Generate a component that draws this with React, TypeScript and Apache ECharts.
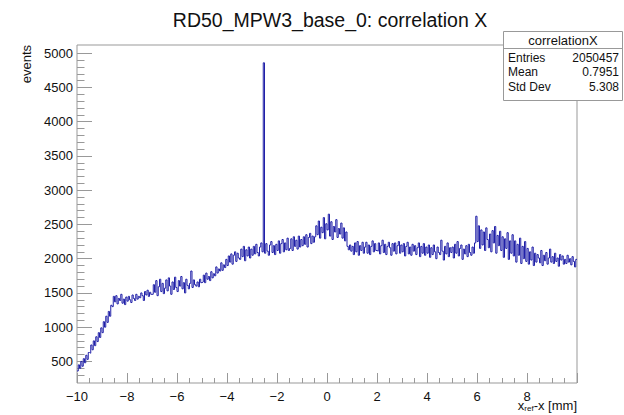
import React, { useEffect, useRef } from "react";
import * as echarts from "echarts";

// Histogram: 400 bins from -10 to 10 mm (bin width 0.05 mm), one row per 0.5 mm
const binLow = -10;
const binHigh = 10;
const counts: number[] = [
  360, 450, 400, 500, 430, 540, 480, 590, 530, 630,
  620, 740, 670, 800, 730, 860, 790, 920, 850, 990,
  920, 1080, 1000, 1160, 1070, 1230, 1160, 1320, 1300, 1450,
  1370, 1460, 1340, 1420, 1390, 1480, 1350, 1410, 1330, 1440,
  1380, 1450, 1400, 1360, 1470, 1420, 1390, 1480, 1410, 1450,
  1430, 1500, 1460, 1390, 1520, 1470, 1540, 1450, 1510, 1480,
  1480, 1620, 1510, 1680, 1460, 1590, 1700, 1520, 1640, 1490,
  1570, 1690, 1530, 1720, 1600, 1480, 1660, 1550, 1730, 1580,
  1520, 1680, 1600, 1740, 1560, 1650, 1500, 1700, 1610, 1560,
  1640, 1820, 1580, 1690, 1620, 1600, 1660, 1590, 1700, 1650,
  1660, 1760, 1650, 1790, 1700, 1740, 1680, 1810, 1720, 1780,
  1750, 1880, 1790, 1850, 1820, 1940, 1830, 1910, 1870, 1990,
  1900, 2040, 1950, 2070, 1920, 2050, 2100, 1960, 2080, 2010,
  1990, 2140, 2030, 2180, 1970, 2130, 2040, 2170, 2010, 2140,
  2050, 2180, 2070, 2210, 2090, 2040, 2170, 2230, 2100, 4860,
  2080, 2220, 2110, 2050, 2200, 2250, 2090, 2190, 2060, 2210,
  2120, 2260, 2080, 2220, 2280, 2100, 2230, 2130, 2300, 2120,
  2150, 2290, 2120, 2320, 2180, 2270, 2140, 2330, 2170, 2280,
  2190, 2320, 2210, 2350, 2170, 2310, 2370, 2220, 2330, 2240,
  2320, 2480, 2350, 2550, 2300, 2460, 2380, 2600, 2290, 2510,
  2420, 2650, 2330, 2540, 2280, 2470, 2390, 2570, 2310, 2440,
  2360, 2520, 2300, 2450, 2260, 2390, 2180, 2130, 2200, 2110,
  2180, 2060, 2230, 2100, 2250, 2050, 2190, 2120, 2240, 2080,
  2170, 2240, 2080, 2200, 2060, 2180, 2260, 2100, 2220, 2120,
  2110, 2230, 2070, 2190, 2270, 2090, 2210, 2060, 2180, 2240,
  2160, 2050, 2220, 2110, 2230, 2070, 2190, 2250, 2080, 2200,
  2100, 2220, 2040, 2180, 2240, 2070, 2170, 2050, 2210, 2110,
  2190, 2060, 2160, 2230, 2030, 2180, 2080, 2220, 2050, 2170,
  2080, 2200, 2020, 2160, 2060, 2200, 2100, 2000, 2170, 2090,
  2060, 2270, 2110, 1980, 2180, 2070, 2230, 2030, 2160, 2090,
  2170, 2010, 2210, 2080, 2250, 2040, 2150, 2200, 1990, 2140,
  2070, 2190, 2030, 2210, 2090, 2050, 2170, 2080, 2230, 2620,
  2250, 2480, 2150, 2420, 2200, 2390, 2120, 2450, 2280, 2160,
  2360, 2100, 2410, 2230, 2470, 2080, 2340, 2190, 2400, 2120,
  2320, 2020, 2290, 2150, 2380, 1990, 2260, 2080, 2350, 2040,
  2260, 1950, 2210, 2050, 2300, 1930, 2180, 2000, 2250, 1960,
  2150, 1920, 2100, 1980, 2170, 1900, 2080, 1950, 2060, 2010,
  1940, 2120, 1900, 2050, 1970, 2090, 1920, 2010, 2140, 1950,
  2030, 1930, 2080, 1960, 2010, 1890, 2060, 1980, 2040, 1920,
  1990, 1930, 2050, 1950, 2000, 1910, 2030, 1960, 1880, 1990,
];

const yMajorTicks = [500, 1000, 1500, 2000, 2500, 3000, 3500, 4000, 4500, 5000];
const yMinorTicks: number[] = [
  300, 400, 600, 700, 800, 900, 1100, 1200, 1300, 1400, 1600, 1700, 1800, 1900,
  2100, 2200, 2300, 2400, 2600, 2700, 2800, 2900, 3100, 3200, 3300, 3400,
  3600, 3700, 3800, 3900, 4100, 4200, 4300, 4400, 4600, 4700, 4800, 4900,
];

const titleText = "RD50_MPW3_base_0: correlation X";
const statName = "correlationX";
const statLabels = ["Entries", "Mean", "Std Dev"];
const statValues = ["2050457", "0.7951", "5.308"];

const FONT = "Liberation Sans";
const Y_MIN = 185;
const Y_MAX = 5120;

export default function App() {
  const ref = useRef<HTMLDivElement>(null);

  useEffect(() => {
    if (!ref.current) return;
    const chart = echarts.init(ref.current, undefined, { renderer: "svg" });
    const nb = counts.length;
    const w = (binHigh - binLow) / nb;
    const data: [number, number][] = counts.map((c, i) => [binLow + i * w, c]);
    data.push([binHigh, counts[nb - 1]]);

    const left = 77;
    const right = 577;
    const top = 45;
    const bottom = 383;

    const boxL = 503;
    const boxR = 623;
    const boxT = 31;
    const boxB = 100;

    const graphics: any[] = [
      {
        type: "text",
        x: 330,
        y: 20,
        style: {
          text: titleText,
          font: `19.5px "${FONT}"`,
          fill: "#111",
          align: "center",
          verticalAlign: "middle",
        },
      },
      {
        type: "text",
        x: 26,
        y: 45,
        rotation: Math.PI / 2,
        style: {
          text: "events",
          font: `13px "${FONT}"`,
          fill: "#111",
          align: "right",
          verticalAlign: "middle",
        },
      },
      {
        type: "text",
        x: right,
        y: 405.5,
        style: {
          text: "{a|x}{s|ref}{a|-x [mm]}",
          align: "right",
          verticalAlign: "middle",
          rich: {
            a: { font: `13px "${FONT}"`, fill: "#111" },
            s: { font: `8px "${FONT}"`, fill: "#111", padding: [5, 0, 0, 0] },
          },
        },
      },
      {
        type: "rect",
        shape: { x: boxL + 0.5, y: boxT + 0.5, width: boxR - boxL - 1, height: boxB - boxT },
        style: { fill: "#fff", stroke: "#999", lineWidth: 1 },
        z: 10,
      },
      {
        type: "line",
        shape: { x1: boxL, y1: 48.5, x2: boxR, y2: 48.5 },
        style: { stroke: "#999", lineWidth: 1 },
        z: 11,
      },
      {
        type: "text",
        x: (boxL + boxR) / 2,
        y: 40,
        z: 11,
        style: {
          text: statName,
          font: `13px "${FONT}"`,
          fill: "#111",
          align: "center",
          verticalAlign: "middle",
        },
      },
    ];
    const rowY = [57.5, 72, 86.5];
    statLabels.forEach((lab, i) => {
      graphics.push({
        type: "text",
        x: boxL + 5,
        y: rowY[i],
        z: 11,
        style: { text: lab, font: `12px "${FONT}"`, fill: "#111", align: "left", verticalAlign: "middle" },
      });
      graphics.push({
        type: "text",
        x: boxR - 4,
        y: rowY[i],
        z: 11,
        style: { text: statValues[i], font: `12px "${FONT}"`, fill: "#111", align: "right", verticalAlign: "middle" },
      });
    });

    const fmtX = (v: number) => {
      if (v >= 10) return "";
      return v < 0 ? "\u2212" + Math.abs(v) : String(v);
    };

    chart.setOption({
      animation: false,
      backgroundColor: "#fff",
      textStyle: { fontFamily: FONT },
      grid: {
        left,
        right: 624 - right,
        top,
        bottom: 415 - bottom,
        show: true,
        borderColor: "#999",
        borderWidth: 1,
        backgroundColor: "transparent",
      },
      xAxis: {
        type: "value",
        min: binLow,
        max: binHigh,
        interval: 2,
        axisLine: { show: false, onZero: false },
        axisTick: { show: true, inside: true, length: 10, lineStyle: { color: "#999" } },
        minorTick: { show: true, splitNumber: 4, length: 5, lineStyle: { color: "#999" } },
        splitLine: { show: false },
        minorSplitLine: { show: false },
        axisLabel: {
          formatter: fmtX,
          fontSize: 13,
          color: "#111",
          fontFamily: FONT,
          margin: 7,
          showMaxLabel: false,
        },
      },
      yAxis: [
        {
          type: "value",
          min: Y_MIN,
          max: Y_MAX,
          position: "left",
          axisLine: { show: false, onZero: false },
          splitLine: { show: false },
          axisTick: {
            show: true,
            inside: true,
            length: 15,
            customValues: yMajorTicks,
            lineStyle: { color: "#999" },
          },
          axisLabel: {
            customValues: yMajorTicks,
            formatter: (v: number) => String(v),
            fontSize: 13,
            color: "#111",
            fontFamily: FONT,
            margin: 4,
          },
        },
        {
          type: "value",
          min: Y_MIN,
          max: Y_MAX,
          position: "left",
          offset: 0,
          axisLine: { show: false, onZero: false },
          splitLine: { show: false },
          axisLabel: { show: false, customValues: yMinorTicks },
          axisTick: {
            show: true,
            inside: true,
            length: 7.5,
            customValues: yMinorTicks,
            lineStyle: { color: "#999" },
          },
        },
      ],
      series: [
        {
          type: "line",
          data,
          step: "end",
          symbol: "none",
          yAxisIndex: 0,
          lineStyle: { color: "#2020a8", width: 1 },
          z: 5,
        },
      ],
      graphic: graphics,
    });

    return () => chart.dispose();
  }, []);

  return (
    <div
      ref={ref}
      style={{ position: "fixed", left: 0, top: 0, width: 624, height: 415, background: "#fff" }}
    />
  );
}
